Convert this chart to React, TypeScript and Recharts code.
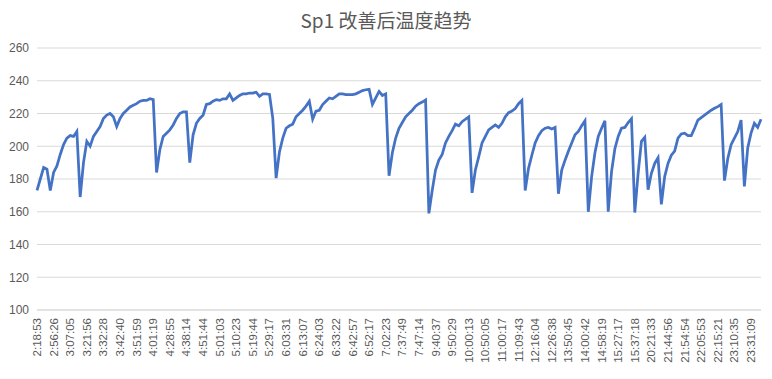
import React from 'react';
import { LineChart, Line, XAxis, YAxis, CartesianGrid } from 'recharts';

// time labels shown on the axis (every 5th reading)
const tickLabels = [
  '2:18:53', '2:56:26', '3:07:05', '3:21:56', '3:32:28', '3:42:40', '3:51:59', '4:01:19',
  '4:28:55', '4:38:14', '4:51:44', '5:01:03', '5:10:23', '5:19:44', '5:29:17', '6:03:31',
  '6:13:07', '6:24:03', '6:33:22', '6:42:57', '6:52:17', '7:02:23', '7:37:49', '7:47:14',
  '9:40:37', '9:50:29', '10:00:13', '10:50:05', '11:00:17', '11:09:43', '12:16:04', '12:26:38',
  '13:50:45', '14:00:42', '14:58:19', '15:27:17', '15:37:18', '20:21:33', '21:44:56', '21:54:54',
  '22:05:53', '22:15:21', '23:10:35', '23:31:09',
];

// Sp1 temperature readings
const temps = [
  173, 180, 187, 186, 173, 184, 188, 195, 201, 205,
  206.5, 206, 209, 169, 190, 203, 200, 206, 209, 212,
  217, 219, 220, 218, 212, 217, 220, 222, 224, 225,
  226, 227.5, 228, 228, 229, 228.5, 184, 198, 206, 208,
  210, 213, 217, 220, 221, 221, 190, 207, 214, 217,
  219, 225.5, 226, 227.5, 228.5, 228, 229, 229, 232, 228,
  229.5, 231, 232, 232, 232.5, 232.5, 233, 230.5, 232, 232,
  231.7, 217, 180.5, 196.5, 205, 211, 212.5, 213.5, 218, 220,
  222, 224.5, 227.5, 216.5, 221.5, 222, 225.5, 227.5, 229.5, 229,
  230.5, 232, 232, 231.5, 231.5, 231.5, 232, 233, 234, 234.5,
  234.8, 225.5, 229.5, 233.5, 231, 232, 182, 196, 205, 211,
  214.5, 218, 220, 222, 224.5, 226, 227, 228.3, 159, 173,
  185.5, 191.5, 195, 202, 206, 209.5, 213.5, 212.5, 215, 216.5,
  218, 171.5, 185.5, 193.5, 202, 206, 210, 211.5, 213, 211.5,
  214, 218, 220.5, 221.5, 223, 226, 228, 173, 186.5, 194.5,
  202, 206.5, 209.5, 211, 211.5, 210.5, 211.5, 171, 185.5, 191.5,
  197, 202, 207, 209, 212.5, 215.5, 160, 181.5, 196, 206,
  211, 215.5, 160, 184.5, 198.5, 206, 211, 211.5, 214.5, 216.8,
  159.5, 183.5, 203, 205.5, 173.5, 183.5, 189.5, 193, 164.5, 181.5,
  189.5, 194.5, 197, 205, 207.5, 208, 206.5, 206.5, 211, 216,
  217.5, 219, 220.5, 222, 223.2, 224.2, 225.5, 179, 192.5, 201,
  205, 209, 216, 175.5, 199, 208, 214, 211.5, 216.5,
];

const yTicks = [100, 120, 140, 160, 180, 200, 220, 240, 260];

const data = temps.map((t, i) => ({
  time: i % 5 === 0 ? tickLabels[i / 5] : '',
  temp: t,
}));

const RotTick = (props: any) => {
  const { x, y, payload } = props;
  return (
    <text
      x={x}
      y={y}
      transform={`rotate(-90, ${x}, ${y})`}
      textAnchor="end"
      dominantBaseline="central"
      fontSize={11.5}
      fill="#595959"
      fontFamily="'Liberation Sans', Arial, sans-serif"
    >
      {payload.value}
    </text>
  );
};

export default function App() {
  return (
    <div style={{ position: 'absolute', left: 0, top: 0, width: 772, height: 379, background: '#fff' }}>
      <div
        style={{
          position: 'absolute',
          top: 6,
          left: 0,
          width: 772,
          textAlign: 'center',
          fontSize: 19,
          color: '#595959',
          fontFamily: "'Noto Sans CJK SC', 'Noto Sans', sans-serif",
        }}
      >
        Sp1 改善后温度趋势
      </div>
      <LineChart
        width={772}
        height={379}
        data={data}
        margin={{ top: 48, right: 11, left: 0, bottom: 0 }}
      >
        <CartesianGrid vertical={false} stroke="#D9D9D9" />
        <XAxis
          dataKey="time"
          interval={4}
          tick={<RotTick />}
          tickLine={false}
          axisLine={{ stroke: '#D9D9D9' }}
          height={69}
        />
        <YAxis
          domain={[100, 260]}
          ticks={yTicks}
          width={37}
          axisLine={false}
          tickLine={false}
          tick={{ fontSize: 12, fill: '#595959', fontFamily: "'Liberation Sans', Arial, sans-serif" }}
        />
        <Line
          type="linear"
          dataKey="temp"
          stroke="#4472C4"
          strokeWidth={2.75}
          dot={false}
          isAnimationActive={false}
        />
      </LineChart>
    </div>
  );
}
